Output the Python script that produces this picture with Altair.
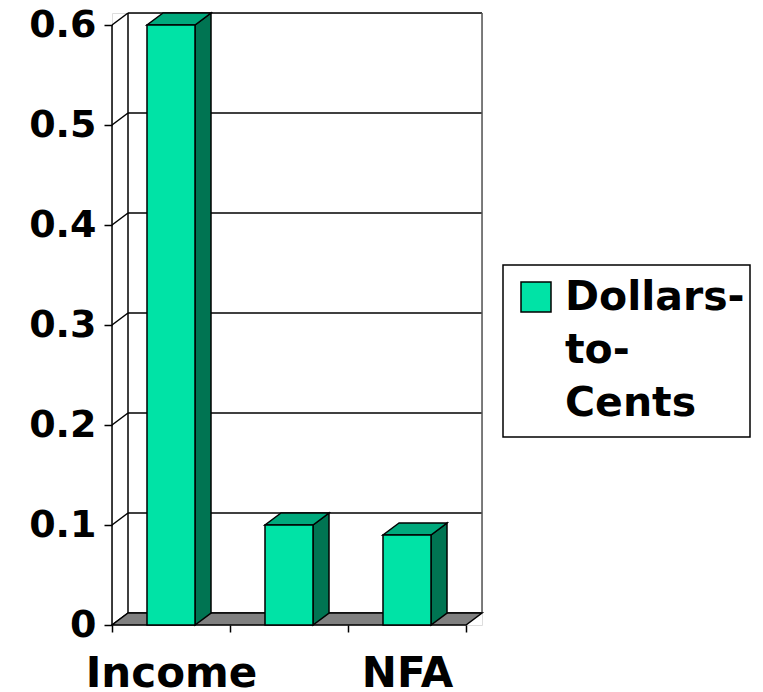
import altair as alt
import pandas as pd

# ---- data ----
CATEGORIES = ["Income", "", "NFA"]          # middle category label is not shown
VALUES = [0.6, 0.1, 0.09]
Y_TICKS = [0, 0.1, 0.2, 0.3, 0.4, 0.5, 0.6]
LEGEND_LINES = ["Dollars-", "to-", "Cents"]
SERIES = "".join(LEGEND_LINES)

# ---- pseudo-3D geometry (style constants) ----
N = len(CATEGORIES)
HALF = 0.2034     # half bar width in category units
DX = 0.1356       # depth offset along x (category units)
DY = 0.012        # depth offset along y (value units)
XMAX = N + DX
YMAX = Y_TICKS[-1] + DY

FRONT = "#00E3A6"
TOP = "#00A97C"
SIDE = "#007452"
FLOOR = "#808080"
FONT = "DejaVu Sans"

xscale = alt.Scale(domain=[0, XMAX], nice=False, zero=False)
yscale = alt.Scale(domain=[0, YMAX], nice=False, zero=False)

label_js = "[" + ",".join("'" + c + "'" for c in CATEGORIES) + "]"
x_axis = alt.Axis(
    values=list(range(N + 1)), title=None, grid=False, domain=False,
    ticks=True, tickSize=7, tickColor="black", tickWidth=1.5,
    labelOffset=59, labelExpr=f"datum.value < {N} ? {label_js}[datum.value] : ''",
    labelFont=FONT, labelFontSize=42, labelFontWeight="bold", labelColor="black",
    labelBaseline="alphabetic", labelPadding=54, labelAlign="center",
    labelOverlap=False, labelFlush=False,
)
y_axis = alt.Axis(
    values=Y_TICKS, title=None, grid=False, domain=False,
    ticks=True, tickSize=8, tickColor="black", tickWidth=1.5,
    labelFont=FONT, labelFontSize=38, labelFontWeight="bold", labelColor="black",
    labelPadding=8, labelExpr="datum.value == 0 ? '0' : format(datum.value, '.1f')",
    labelOverlap=False, labelFlush=False,
)


def X(f):
    return alt.X(f, type="quantitative", scale=xscale, axis=x_axis)


def Y(f):
    return alt.Y(f, type="quantitative", scale=yscale, axis=y_axis)


# back wall grid
grid_df = pd.DataFrame({"x": [DX] * len(Y_TICKS), "x2": [N + DX] * len(Y_TICKS),
                        "y": [t + DY for t in Y_TICKS]})
grid = alt.Chart(grid_df).mark_rule(color="black", strokeWidth=1.5).encode(
    x=X("x"), x2="x2", y=Y("y"))

# back wall vertical edges
edge_df = pd.DataFrame({"x": [DX, N + DX], "y": [DY, DY], "y2": [YMAX, YMAX],
                        "c": ["black", "#555555"]})
edges = alt.Chart(edge_df).mark_rule(strokeWidth=1.5).encode(
    x=X("x"), y=Y("y"), y2="y2", color=alt.Color("c:N", scale=None))

# left wall diagonals
diag_df = pd.DataFrame({"x": [0] * len(Y_TICKS), "x2": [DX] * len(Y_TICKS),
                        "y": Y_TICKS, "y2": [t + DY for t in Y_TICKS]})
diags = alt.Chart(diag_df).mark_rule(color="black", strokeWidth=1.5).encode(
    x=X("x"), x2="x2", y=Y("y"), y2="y2")

# front vertical axis line
front_df = pd.DataFrame({"x": [0], "y": [0], "y2": [Y_TICKS[-1]]})
front_axis = alt.Chart(front_df).mark_rule(color="black", strokeWidth=1.5).encode(
    x=X("x"), y=Y("y"), y2="y2")

# floor
floor_df = pd.DataFrame({"y": [0, DY], "x": [0, DX], "x2": [N, N + DX]})
floor = alt.Chart(floor_df).mark_area(
    orient="horizontal", fill=FLOOR, stroke="black", strokeWidth=1.5,
    strokeJoin="miter").encode(y=Y("y"), x=X("x"), x2="x2")

# bars
front_rows, side_rows, top_rows = [], [], []
for i, (c, v) in enumerate(zip(CATEGORIES, VALUES)):
    left, right = i + 0.5 - HALF, i + 0.5 + HALF
    front_rows.append({"x": left, "x2": right, "y": 0, "y2": v, "series": SERIES, "cat": c})
    side_rows += [{"bar": i, "x": right, "y": v, "y2": 0},
                  {"bar": i, "x": right + DX, "y": v + DY, "y2": DY}]
    top_rows += [{"bar": i, "y": v, "x": left, "x2": right},
                 {"bar": i, "y": v + DY, "x": left + DX, "x2": right + DX}]

side = alt.Chart(pd.DataFrame(side_rows)).mark_area(
    orient="vertical", fill=SIDE, stroke="black", strokeWidth=1.5).encode(
    x=X("x"), y=Y("y"), y2="y2", detail="bar:N")
top = alt.Chart(pd.DataFrame(top_rows)).mark_area(
    orient="horizontal", fill=TOP, stroke="black", strokeWidth=1.5).encode(
    y=Y("y"), x=X("x"), x2="x2", detail="bar:N")

color_scale = alt.Scale(domain=[SERIES], range=[FRONT])
front = alt.Chart(pd.DataFrame(front_rows)).mark_rect(
    stroke="black", strokeWidth=1.5).encode(
    x=X("x"), x2="x2", y=Y("y"), y2="y2",
    color=alt.Color("series:N", scale=color_scale, legend=None))

# legend (drawn box)
leg_df = pd.DataFrame({"series": [SERIES]})
leg_box = alt.Chart(leg_df).mark_rect(fill="white", stroke="black", strokeWidth=1.5).encode(
    x=alt.value(391), x2=alt.value(638), y=alt.value(252), y2=alt.value(424))
leg_sym = alt.Chart(leg_df).mark_square(size=900, opacity=1, stroke="black",
                                        strokeWidth=1.5).encode(
    x=alt.value(424), y=alt.value(284),
    color=alt.Color("series:N", scale=color_scale, legend=None))
leg_txt = alt.Chart(leg_df).mark_text(
    align="left", baseline="alphabetic", font=FONT, fontSize=41, fontWeight="bold",
    color="black", lineHeight=53).encode(
    x=alt.value(453), y=alt.value(297), text=alt.value(LEGEND_LINES))

chart = alt.layer(
    grid, edges, diags, front_axis, floor, side, top, front, leg_box, leg_sym, leg_txt
).properties(
    width=370, height=612,
    autosize=alt.AutoSizeParams(type="none"),
    padding={"left": 104, "top": 5, "right": 272, "bottom": 67},
).configure_view(stroke=None).configure(background="white")

chart.save("out.html", embed_options={"renderer": "svg", "actions": False})
